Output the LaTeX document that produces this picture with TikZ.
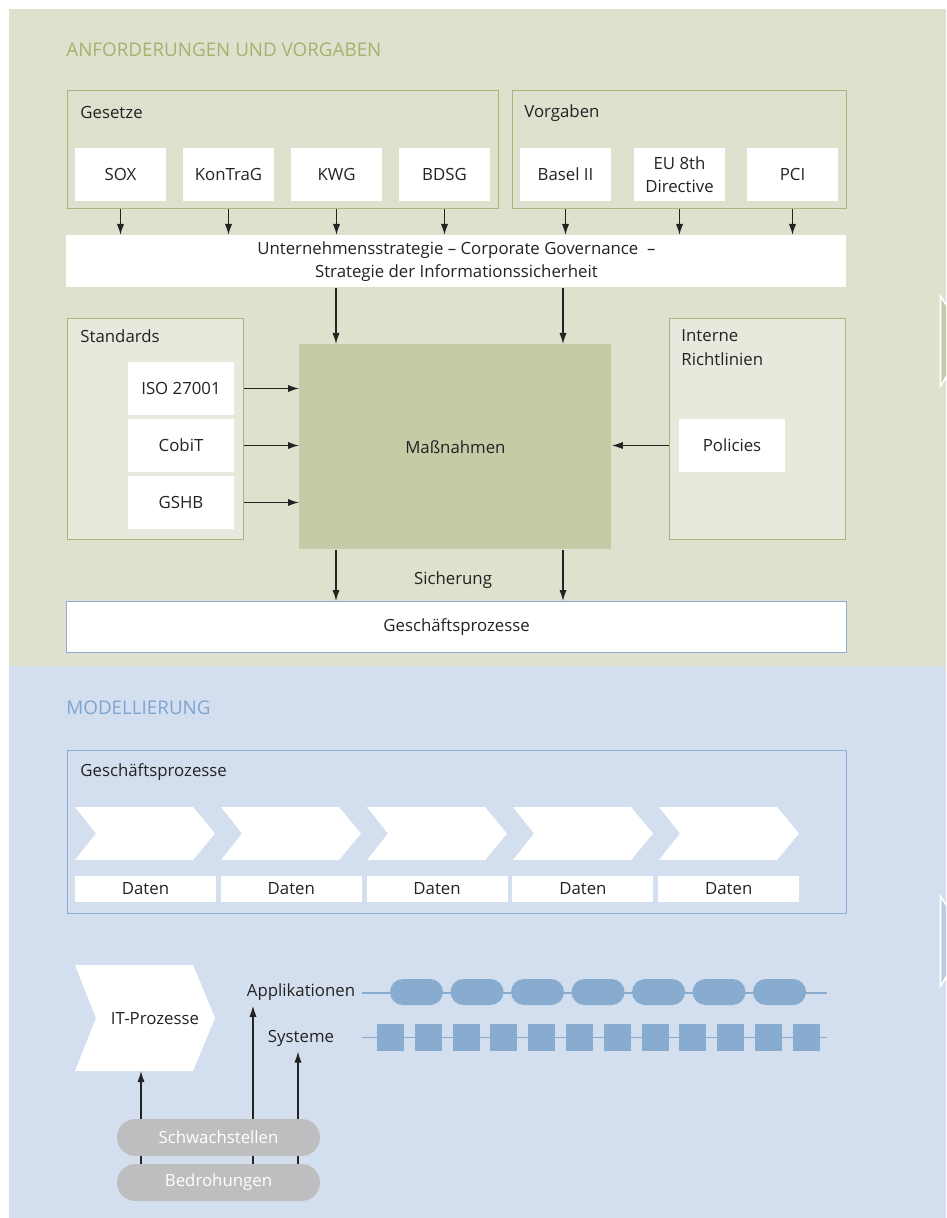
\documentclass[tikz,border=0pt]{standalone}
\usepackage{fontspec}
\setmainfont{Open Sans}
\usetikzlibrary{arrows.meta,positioning,calc}
\definecolor{bggreen}{RGB}{223,225,206}
\definecolor{boxgreen}{RGB}{165,184,122}
\definecolor{lightgreen}{RGB}{232,233,221}
\definecolor{massgreen}{RGB}{197,203,166}
\definecolor{headgreen}{RGB}{160,180,110}
\definecolor{bgblue}{RGB}{211,223,238}
\definecolor{lineblue}{RGB}{140,172,210}
\definecolor{headblue}{RGB}{125,165,210}
\definecolor{shapeblue}{RGB}{135,172,207}
\definecolor{edgeblue}{RGB}{185,204,228}
\definecolor{pillgray}{RGB}{190,190,192}
\definecolor{textgray}{RGB}{35,35,35}
\newdimen\pxu \pxu=0.5pt

\begin{document}
\begin{tikzpicture}[x=0.5pt, y=-0.5pt,
    every node/.style={font=\fontsize{8.4}{11.5}\selectfont, text=textgray, inner sep=0pt},
    header/.style={anchor=west, font=\fontsize{9.4}{11}\selectfont},
    title/.style={anchor=west},
    groupbox/.style={anchor=north west, draw=boxgreen, line width=0.7pt},
    item/.style={fill=white, minimum width=91\pxu, minimum height=53\pxu, align=center},
    stditem/.style={item, minimum width=106\pxu},
    band/.style={anchor=north west, fill=white, minimum width=780\pxu, align=center},
    datum/.style={fill=white, minimum width=141\pxu, minimum height=26\pxu},
    pill/.style={fill=pillgray, text=white, minimum width=203\pxu, minimum height=37\pxu, rounded corners=18.5\pxu},
    apppill/.style={fill=shapeblue, minimum width=53\pxu, minimum height=26\pxu, rounded corners=13\pxu},
    sysbox/.style={fill=shapeblue, minimum width=27\pxu, minimum height=27\pxu},
    track/.style={draw=shapeblue, line width=0.6pt},
    flow/.style={-{Latex[length=5.5pt,width=3.6pt]}, line width=0.65pt, textgray}
]
\useasboundingbox (0,0) rectangle (946,1218);
\clip (0,0) rectangle (946,1218);

% Backgrounds
\fill[bggreen] (9,9) rectangle (946,666);
\fill[bgblue] (9,666) rectangle (946,1218);

% Edge chevrons at the right border
\filldraw[fill=massgreen, draw=white, line width=0.8pt] (940.5,296) -- (950,311) -- (950,371) -- (940.5,386) -- cycle;
\filldraw[fill=edgeblue, draw=white, line width=0.8pt] (940.5,896) -- (950,911) -- (950,971) -- (940.5,986) -- cycle;

% Requirements
\node[header, text=headgreen] (hdrreq) at (66,50) {ANFORDERUNGEN UND VORGABEN};

% Laws
\node[groupbox, minimum width=431\pxu, minimum height=118\pxu] (gesetze) at (67,90) {};
\node[title] (gesetzetitle) at (80,113) {Gesetze};
\node[item] (sox) at (120.5,174.5) {SOX};
\node[item] (kontrag) at (228.5,174.5) {KonTraG};
\node[item] (kwg) at (336.5,174.5) {KWG};
\node[item] (bdsg) at (444.5,174.5) {BDSG};

% Regulations
\node[groupbox, minimum width=334\pxu, minimum height=118\pxu] (vorgaben) at (512,90) {};
\node[title] (vorgabentitle) at (524,113) {Vorgaben};
\node[item] (basel) at (565.5,174.5) {Basel II};
\node[item] (eudir) at (679.5,174.5) {EU 8th\\Directive};
\node[item] (pci) at (792.5,174.5) {PCI};

% Strategy band
\node[band, minimum height=52\pxu] (strategy) at (66,235) {Unternehmensstrategie -- Corporate Governance~~--\\Strategie der Informationssicherheit};

\foreach \n in {sox,kontrag,kwg,bdsg}
    \draw[flow] (\n |- gesetze.south) -- (\n |- strategy.north);
\foreach \n in {basel,eudir,pci}
    \draw[flow] (\n |- vorgaben.south) -- (\n |- strategy.north);

% Measures
\node[anchor=north west, fill=massgreen, minimum width=312\pxu, minimum height=205\pxu] (massnahmen) at (299,344) {Maßnahmen};
\coordinate (lane1) at (336,0);
\coordinate (lane2) at (563,0);
\draw[flow] (lane1 |- strategy.south) -- (lane1 |- massnahmen.north);
\draw[flow] (lane2 |- strategy.south) -- (lane2 |- massnahmen.north);

% Standards
\node[groupbox, fill=lightgreen, minimum width=176\pxu, minimum height=221\pxu] (standards) at (67,318) {};
\node[title] (standardstitle) at (80,336) {Standards};
\node[stditem] (iso) at (181,388.5) {ISO 27001};
\node[stditem] (cobit) at (181,445.5) {CobiT};
\node[stditem] (gshb) at (181,502.5) {GSHB};
\foreach \n in {iso,cobit,gshb}
    \draw[flow] (\n -| standards.east) -- (\n -| massnahmen.west);

% Internal guidelines
\node[groupbox, fill=lightgreen, minimum width=176\pxu, minimum height=221\pxu] (interne) at (669,318) {};
\node[title, align=left, font=\fontsize{8.4}{12}\selectfont] (internetitle) at (681,348) {Interne\\Richtlinien};
\node[stditem] (policies) at (732,445.5) {Policies};
\draw[flow] (policies -| interne.west) -- (policies -| massnahmen.east);

% Business processes
\node[band, draw=lineblue, line width=0.6pt, minimum height=51\pxu] (geschaeft) at (66,601) {Geschäftsprozesse};
\node (sicherung) at (453,580) {Sicherung};
\draw[flow] (lane1 |- massnahmen.south) -- (lane1 |- geschaeft.north);
\draw[flow] (lane2 |- massnahmen.south) -- (lane2 |- geschaeft.north);

% Modelling
\node[header, text=headblue] (hdrmod) at (66,708) {MODELLIERUNG};
\node[anchor=north west, draw=lineblue, line width=0.7pt, minimum width=779\pxu, minimum height=163\pxu] (gpbox) at (67,750) {};
\node[title] (gptitle) at (80,772) {Geschäftsprozesse};
\foreach \i in {0,...,4} {
    \fill[white] (75+146*\i,807) -- ++(118,0) -- ++(22,26.5) -- ++(-22,26.5) -- ++(-118,0) -- ++(21,-26.5) -- cycle;
    \node[datum] (daten\i) at (145.5+145.8*\i,888.5) {Daten};
}

% IT processes
\fill[white] (75,965) -- (193,965) -- (215,1018) -- (193,1071) -- (75,1071) -- (96,1018) -- cycle;
\node (itp) at (155,1019) {IT-Prozesse};
\coordinate (itpfoot) at (141,1071);

% Applications and systems
\node[inner ysep=2.5pt] (apps) at (301,992) {Applikationen};
\node[inner ysep=2.5pt] (syst) at (301,1038) {Systeme};
\draw[track] (362,993) -- (827,993);
\draw[track] (362,1037.5) -- (827,1037.5);
\foreach \i in {0,...,6}
    \node[apppill] (app\i) at (416.5+60.5*\i,992) {};
\foreach \i in {0,...,11}
    \node[sysbox] (sys\i) at (390.5+37.8*\i,1037.5) {};

% Threats and vulnerabilities
\node[pill] (bedrohungen) at (218.5,1182.5) {Bedrohungen};
\coordinate (lane3) at (141,0);
\coordinate (lane4) at (253,0);
\coordinate (lane5) at (298,0);
\draw[flow] (lane3 |- bedrohungen.north) -- (itpfoot);
\draw[flow] (lane4 |- bedrohungen.north) -- (lane4 |- apps.south);
\draw[flow] (lane5 |- bedrohungen.north) -- (lane5 |- syst.south);
\node[pill] (schwachstellen) at (218.5,1137.5) {Schwachstellen};

\end{tikzpicture}
\end{document}
